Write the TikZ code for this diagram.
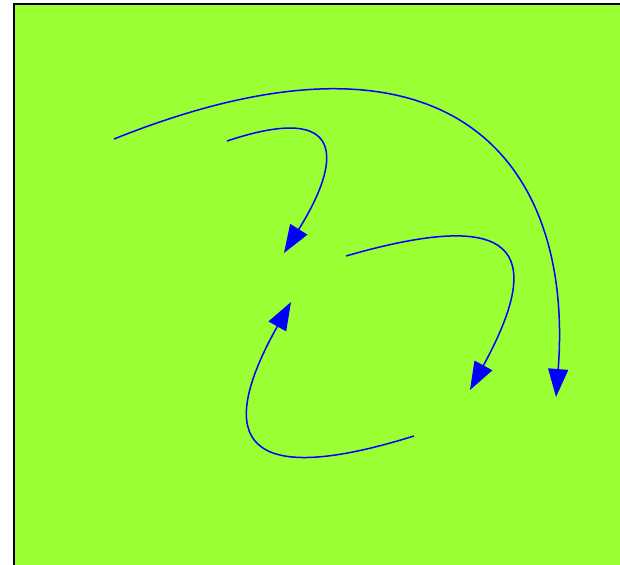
\documentclass[tikz,border=0pt]{standalone}
\usepackage{tikz}
\usetikzlibrary{arrows.meta}
\usepackage{xcolor}
\definecolor{lawn}{RGB}{154,255,51}
\definecolor{swirl}{RGB}{0,0,255}

\begin{document}
\begin{tikzpicture}[x=1pt, y=-1pt,
  flow/.style={swirl, line width=1.5pt, -{Triangle[length=28pt, width=20pt]}}]
  \useasboundingbox (0,0) rectangle (620,564);
  \clip (0,0) rectangle (620,564);
  % Panel
  \draw[fill=lawn, line width=2pt] (14,4) rectangle (630,574);
  % Ends of the arrows
  \coordinate (outerA) at (114,139);
  \coordinate (outerB) at (556,397);
  \coordinate (topA) at (227,141);
  \coordinate (topB) at (284,253);
  \coordinate (midA) at (346,256);
  \coordinate (midB) at (470,390);
  \coordinate (lowA) at (414,436);
  \coordinate (lowB) at (291,302);
  % Arrows
  \draw[flow] (outerA) .. controls (456,2) and (574,167) .. (outerB);
  \draw[flow] (topA) .. controls (347,101) and (342,160) .. (topB);
  \draw[flow] (midA) .. controls (516,207) and (547,249) .. (midB);
  \draw[flow] (lowA) .. controls (244,489) and (213,441) .. (lowB);
\end{tikzpicture}
\end{document}
